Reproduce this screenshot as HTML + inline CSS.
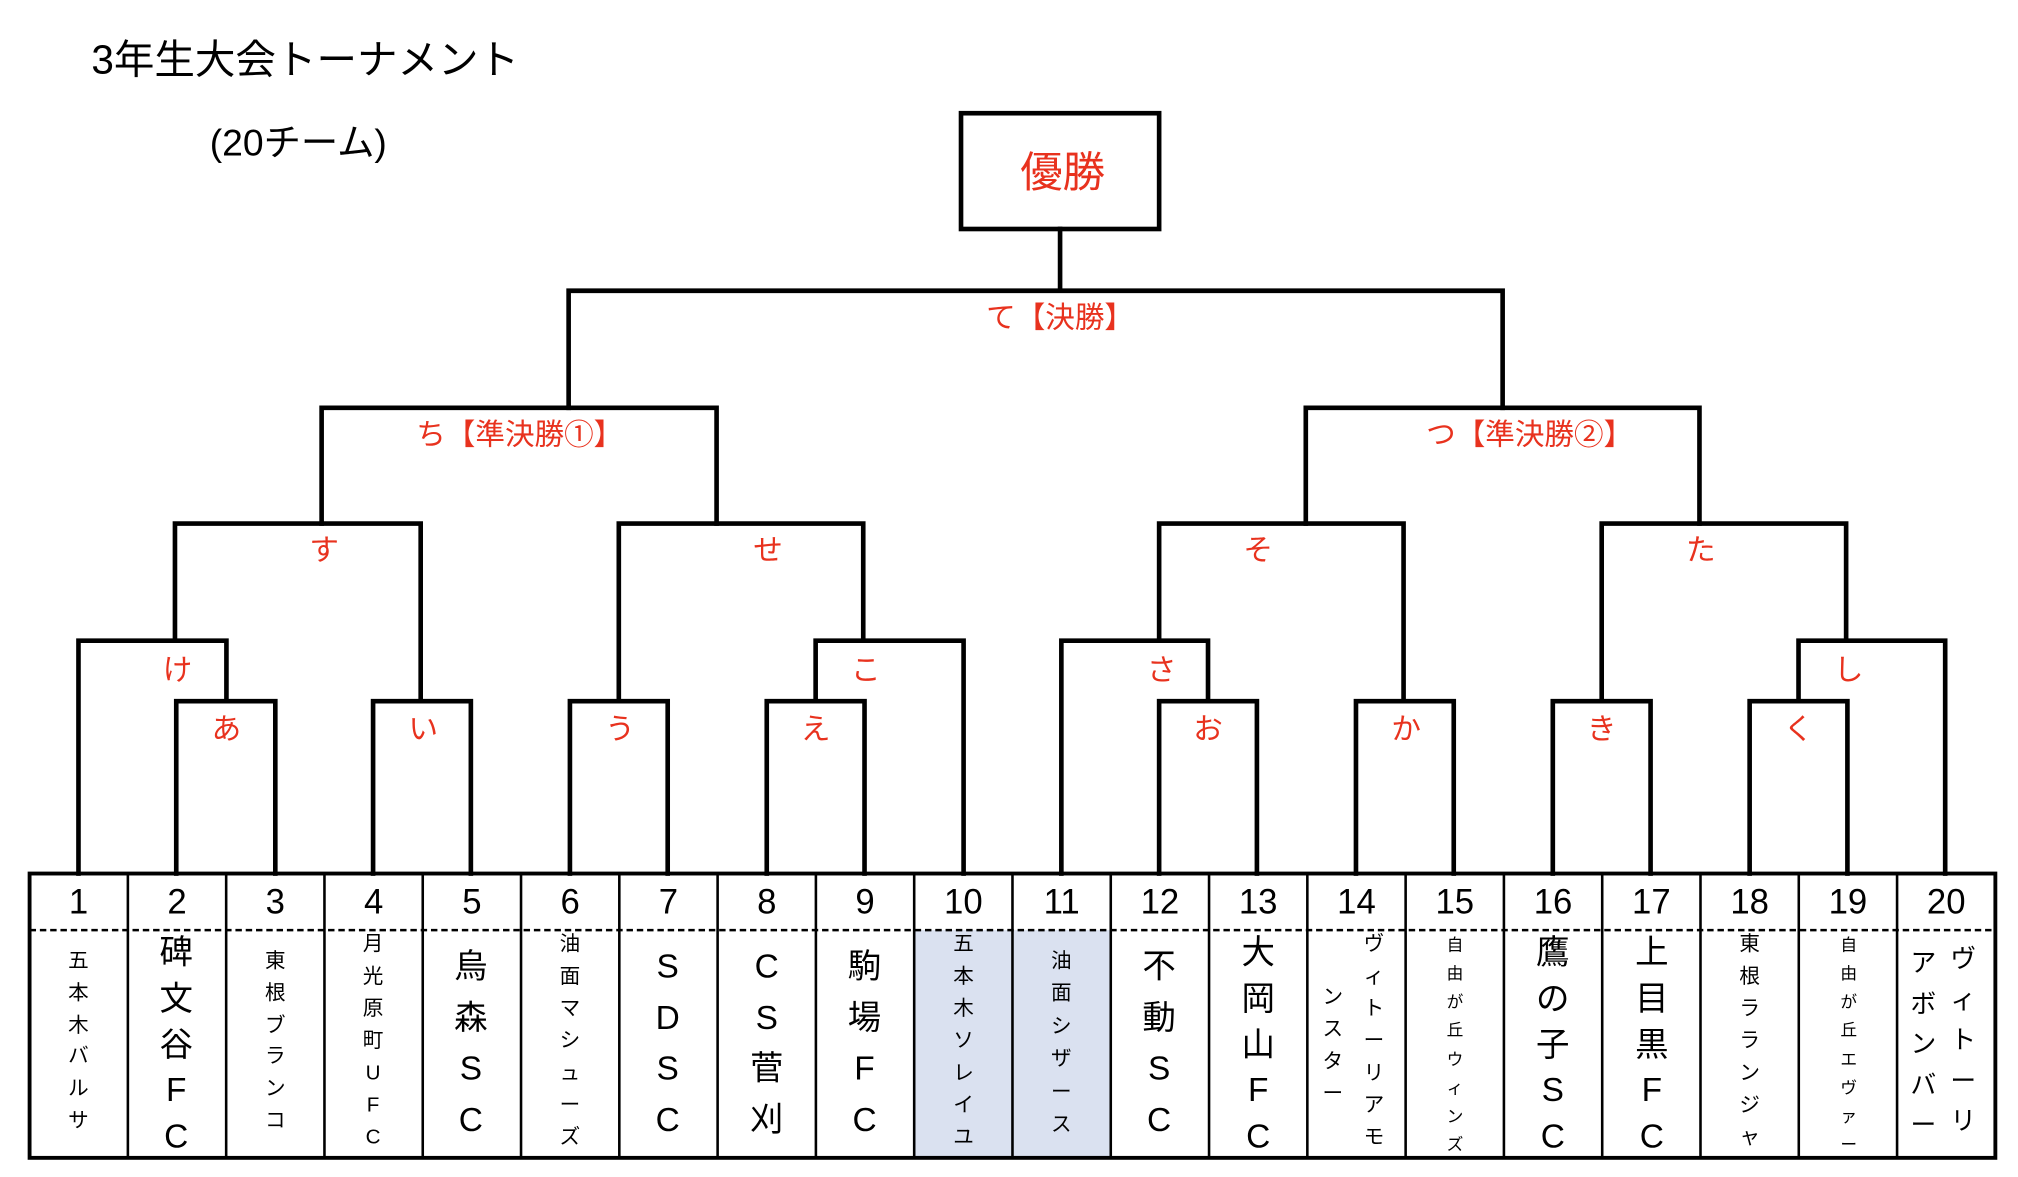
<!DOCTYPE html>
<html><head><meta charset="utf-8">
<style>
html,body{margin:0;padding:0;background:#fff;}
body{width:2018px;height:1176px;overflow:hidden;position:relative;}
#wrap{position:absolute;left:0;top:0;width:1570px;height:915px;transform:scale(1.2865);transform-origin:0 0;font-family:"Liberation Sans","Noto Sans CJK JP",sans-serif;}
svg{position:absolute;left:0;top:0;}
.col{position:absolute;display:flex;flex-direction:column;justify-content:space-between;align-items:center;line-height:1;color:#000;}
.col span{display:block;height:1em;}
</style></head><body>
<div id="wrap">
<svg width="1570" height="915" viewBox="0 0 1570 915">
<rect x="711" y="723" width="152" height="177" fill="#dae1f0"/>
<g stroke="#000" stroke-width="3.6" fill="none" stroke-linecap="square">
<rect x="747" y="88" width="154" height="90"/>
<path d="M824 178V226M442 226H1168M442 226V317M1168 226V317"/>
<path d="M250 317H557M250 317V407M557 317V407M1015 317H1321M1015 317V407M1321 317V407"/>
<path d="M136 407H327M136 407V498M327 407V545"/>
<path d="M481 407H671M481 407V545M671 407V498"/>
<path d="M901 407H1091M901 407V498M1091 407V545"/>
<path d="M1245 407H1435M1245 407V545M1435 407V498"/>
<path d="M61 498H176M61 498V679M176 498V545"/>
<path d="M634 498H749M634 498V545M749 498V679"/>
<path d="M825 498H939M825 498V679M939 498V545"/>
<path d="M1398 498H1512M1398 498V545M1512 498V679"/>
<path d="M137 545H214M137 545V679M214 545V679"/>
<path d="M290 545H366M290 545V679M366 545V679"/>
<path d="M443 545H519M443 545V679M519 545V679"/>
<path d="M596 545H672M596 545V679M672 545V679"/>
<path d="M901 545H977M901 545V679M977 545V679"/>
<path d="M1054 545H1130M1054 545V679M1130 545V679"/>
<path d="M1207 545H1283M1207 545V679M1283 545V679"/>
<path d="M1360 545H1436M1360 545V679M1436 545V679"/>
</g>
<rect x="23" y="679" width="1528" height="221" fill="none" stroke="#000" stroke-width="3"/>
<g stroke="#000" stroke-width="2">
<path d="M99.4 679V900M175.8 679V900M252.2 679V900M328.6 679V900M405 679V900M481.4 679V900M557.8 679V900M634.2 679V900M710.6 679V900M787 679V900M863.4 679V900M939.8 679V900M1016.2 679V900M1092.6 679V900M1169 679V900M1245.4 679V900M1321.8 679V900M1398.2 679V900M1474.6 679V900"/>
</g>
<line x1="23" y1="723" x2="1551" y2="723" stroke="#000" stroke-width="2" stroke-dasharray="5,3"/>
<g font-family="Liberation Sans, Noto Sans CJK JP, sans-serif" font-size="27" text-anchor="middle" fill="#000">
<text x="61" y="710">1</text><text x="137.6" y="710">2</text><text x="214" y="710">3</text><text x="290.4" y="710">4</text><text x="366.8" y="710">5</text>
<text x="443.2" y="710">6</text><text x="519.6" y="710">7</text><text x="596" y="710">8</text><text x="672.4" y="710">9</text><text x="748.8" y="710">10</text>
<text x="825.2" y="710">11</text><text x="901.6" y="710">12</text><text x="978" y="710">13</text><text x="1054.4" y="710">14</text><text x="1130.8" y="710">15</text>
<text x="1207.2" y="710">16</text><text x="1283.6" y="710">17</text><text x="1360" y="710">18</text><text x="1436.4" y="710">19</text><text x="1512.8" y="710">20</text>
</g>
<g font-family="Liberation Sans, Noto Sans CJK JP, sans-serif" font-size="23" text-anchor="middle" fill="#e8321e" dominant-baseline="central">
<text x="826" y="134" font-size="33">優勝</text>
<text x="824" y="247">て【決勝】</text>
<text x="404" y="338">ち【準決勝①】</text>
<text x="1189" y="338">つ【準決勝②】</text>
<text x="252" y="428">す</text><text x="597" y="428">せ</text><text x="978" y="428">そ</text><text x="1322" y="428">た</text>
<text x="138" y="521">け</text><text x="673" y="521">こ</text><text x="903" y="521">さ</text><text x="1437" y="521">し</text>
<text x="176" y="567">あ</text><text x="329" y="567">い</text><text x="482" y="567">う</text><text x="634" y="567">え</text>
<text x="939" y="567">お</text><text x="1093" y="567">か</text><text x="1245" y="567">き</text><text x="1398" y="567">く</text>
</g>
<g font-family="Liberation Sans, Noto Sans CJK JP, sans-serif" fill="#000">
<text x="71" y="57" font-size="31.5">3年生大会トーナメント</text>
<text x="163" y="121" font-size="29">(20チーム)</text>
</g>
</svg>

<div class="col" style="left:51px;width:20px;top:740px;height:140px;font-size:16px"><span>五</span><span>本</span><span>木</span><span>バ</span><span>ル</span><span>サ</span></div>
<div class="col" style="left:117px;width:40px;top:727px;height:169px;font-size:26px"><span>碑</span><span>文</span><span>谷</span><span>F</span><span>C</span></div>
<div class="col" style="left:204px;width:20px;top:740px;height:140px;font-size:16px"><span>東</span><span>根</span><span>ブ</span><span>ラ</span><span>ン</span><span>コ</span></div>
<div class="col" style="left:280px;width:20px;top:727px;height:166px;font-size:16px"><span>月</span><span>光</span><span>原</span><span>町</span><span>U</span><span>F</span><span>C</span></div>
<div class="col" style="left:346px;width:40px;top:738px;height:145px;font-size:26px"><span>烏</span><span>森</span><span>S</span><span>C</span></div>
<div class="col" style="left:433px;width:20px;top:727px;height:166px;font-size:16px"><span>油</span><span>面</span><span>マ</span><span>シ</span><span>ュ</span><span>ー</span><span>ズ</span></div>
<div class="col" style="left:499px;width:40px;top:738px;height:145px;font-size:26px"><span>S</span><span>D</span><span>S</span><span>C</span></div>
<div class="col" style="left:576px;width:40px;top:738px;height:145px;font-size:26px"><span>C</span><span>S</span><span>菅</span><span>刈</span></div>
<div class="col" style="left:652px;width:40px;top:738px;height:145px;font-size:26px"><span>駒</span><span>場</span><span>F</span><span>C</span></div>
<div class="col" style="left:739px;width:20px;top:727px;height:166px;font-size:16px"><span>五</span><span>本</span><span>木</span><span>ソ</span><span>レ</span><span>イ</span><span>ユ</span></div>
<div class="col" style="left:815px;width:20px;top:740px;height:143px;font-size:16px"><span>油</span><span>面</span><span>シ</span><span>ザ</span><span>ー</span><span>ス</span></div>
<div class="col" style="left:881px;width:40px;top:738px;height:145px;font-size:26px"><span>不</span><span>動</span><span>S</span><span>C</span></div>
<div class="col" style="left:958px;width:40px;top:727px;height:169px;font-size:26px"><span>大</span><span>岡</span><span>山</span><span>F</span><span>C</span></div>
<div class="col" style="left:1058px;width:20px;top:727px;height:166px;font-size:16px"><span>ヴ</span><span>ィ</span><span>ト</span><span>ー</span><span>リ</span><span>ア</span><span>モ</span></div>
<div class="col" style="left:1026px;width:20px;top:768px;height:91px;font-size:16px"><span>ン</span><span>ス</span><span>タ</span><span>ー</span></div>
<div class="col" style="left:1121px;width:20px;top:728px;height:168px;font-size:13px"><span>自</span><span>由</span><span>が</span><span>丘</span><span>ウ</span><span>ィ</span><span>ン</span><span>ズ</span></div>
<div class="col" style="left:1187px;width:40px;top:727px;height:169px;font-size:26px"><span>鷹</span><span>の</span><span>子</span><span>S</span><span>C</span></div>
<div class="col" style="left:1264px;width:40px;top:727px;height:169px;font-size:26px"><span>上</span><span>目</span><span>黒</span><span>F</span><span>C</span></div>
<div class="col" style="left:1350px;width:20px;top:727px;height:166px;font-size:16px"><span>東</span><span>根</span><span>ラ</span><span>ラ</span><span>ン</span><span>ジ</span><span>ャ</span></div>
<div class="col" style="left:1427px;width:20px;top:728px;height:168px;font-size:13px"><span>自</span><span>由</span><span>が</span><span>丘</span><span>エ</span><span>ヴ</span><span>ァ</span><span>ー</span></div>
<div class="col" style="left:1515px;width:22px;top:736px;height:146px;font-size:20px"><span>ヴ</span><span>ィ</span><span>ト</span><span>ー</span><span>リ</span></div>
<div class="col" style="left:1484px;width:22px;top:739px;height:146px;font-size:20px"><span>ア</span><span>ボ</span><span>ン</span><span>バ</span><span>ー</span></div>
</div>
</body></html>
